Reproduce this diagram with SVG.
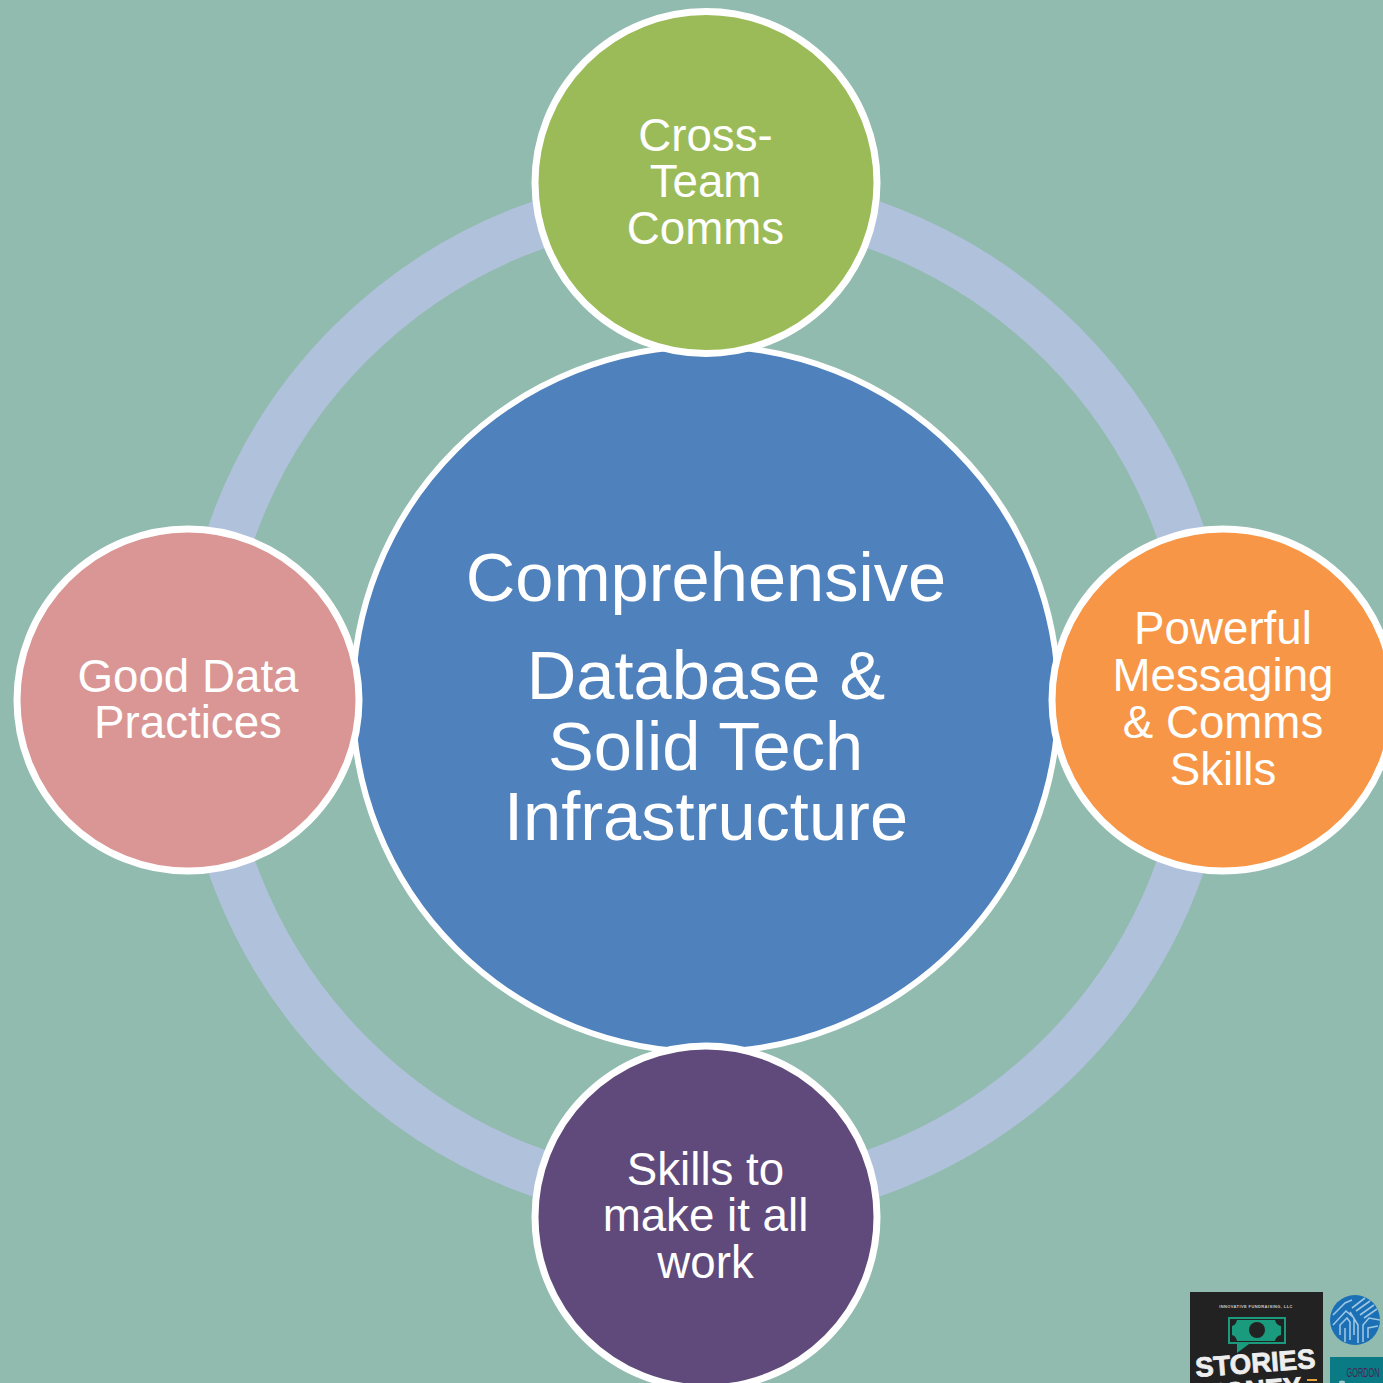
<svg xmlns="http://www.w3.org/2000/svg" width="1383" height="1383" viewBox="0 0 1383 1383">
<defs><clipPath id="cc"><circle cx="1355" cy="1320" r="25"/></clipPath></defs>
<style>
.n{stroke:#fff;stroke-width:7}
.t{font-family:"Liberation Sans",Arial,sans-serif;fill:#fff;text-anchor:middle}
.s{font-size:45.700px}
.b{font-size:68.600px}
.w{font-family:"Liberation Sans",Arial,sans-serif;text-anchor:middle;font-weight:bold}
</style>
<rect width="1383" height="1383" fill="#91bbae"/>
<g id="connectors"><circle cx="706" cy="699" r="503" fill="none" stroke="#b0c1dc" stroke-width="48"/></g>
<g id="center"><circle cx="705.500" cy="699" r="353" fill="#4f81bd" stroke="#fff" stroke-width="6"/>
<text class="t b" x="706" y="600.500">Comprehensive</text>
<text class="t b" x="706" y="698.500">Database &amp;</text>
<text class="t b" x="705.500" y="769.500">Solid Tech</text>
<text class="t b" x="706" y="839.500">Infrastructure</text></g>
<g id="top"><circle class="n" cx="706" cy="182.500" r="171" fill="#9bbb59"/>
<text class="t s" x="705.500" y="151">Cross-</text>
<text class="t s" x="705.500" y="197">Team</text>
<text class="t s" x="705.500" y="244">Comms</text></g>
<g id="right"><circle class="n" cx="1223" cy="700" r="171" fill="#f79646"/>
<text class="t s" x="1223" y="644">Powerful</text>
<text class="t s" x="1223" y="691">Messaging</text>
<text class="t s" x="1223" y="738">&amp; Comms</text>
<text class="t s" x="1223" y="785">Skills</text></g>
<g id="bottom"><circle class="n" cx="706" cy="1217" r="171" fill="#604a7b"/>
<text class="t s" x="705.500" y="1185">Skills to</text>
<text class="t s" x="705.500" y="1231">make it all</text>
<text class="t s" x="705.500" y="1278">work</text></g>
<g id="left"><circle class="n" cx="188" cy="700" r="171" fill="#d99694"/>
<text class="t s" x="188" y="692">Good Data</text>
<text class="t s" x="188" y="738">Practices</text></g>
<g id="logo-stories">
<rect x="1190" y="1292" width="133" height="91" fill="#222"/>
<text class="w" x="1256" y="1308" font-size="4" fill="#ccc" letter-spacing=".4">INNOVATIVE FUNDRAISING, LLC</text>
<rect x="1229" y="1318" width="56" height="25" fill="none" stroke="#1a9b7d" stroke-width="2"/>
<path d="M1237 1320H1275Q1276 1325 1281 1326V1335Q1276 1336 1275 1341H1237Q1236 1336 1232 1335V1326Q1236 1325 1237 1320Z" fill="#1a9b7d"/>
<circle cx="1257" cy="1330" r="8" fill="#222"/>
<path d="M1237 1344H1249L1237 1353Z" fill="#1a9b7d"/>
<g transform="rotate(-4.400 1256 1372.500)" stroke="#eee" stroke-width=".8"><text class="w" x="1256" y="1372.500" font-size="27.500" fill="#eee">STORIES</text>
<text class="w" x="1250" y="1399.500" font-size="27.500" fill="#eee">MONEY</text></g>
<rect x="1307" y="1379" width="10" height="2" fill="#e8a33d"/>
</g>
<g id="logo-circle">
<circle cx="1355" cy="1320" r="25" fill="#1a6fb5"/>
<path clip-path="url(#cc)" d="M1352 1308L1365 1298M1356 1311L1370 1301M1360 1315L1374 1305M1364 1318L1377 1309M1333 1315L1345 1303L1352 1300M1333 1325L1346 1311L1354 1318V1335M1340 1335V1325L1347 1318L1350 1322V1340M1345 1342V1328M1358 1343V1325L1350 1312M1363 1342V1325L1369 1318L1380 1320M1368 1338V1328L1378 1326" fill="none" stroke="#9cc6e2" stroke-width="1.600"/>
</g>
<g id="logo-gordon">
<rect x="1330" y="1357" width="53" height="26" fill="#0a7a84"/>
<text x="1363" y="1377" font-family="'Liberation Sans',sans-serif" font-size="12" fill="#4a1f55" text-anchor="middle" textLength="33" lengthAdjust="spacingAndGlyphs">GORDON</text>
<ellipse cx="1342" cy="1382" rx="3" ry="1.500" fill="#9fc9c9"/>
</g>
</svg>
